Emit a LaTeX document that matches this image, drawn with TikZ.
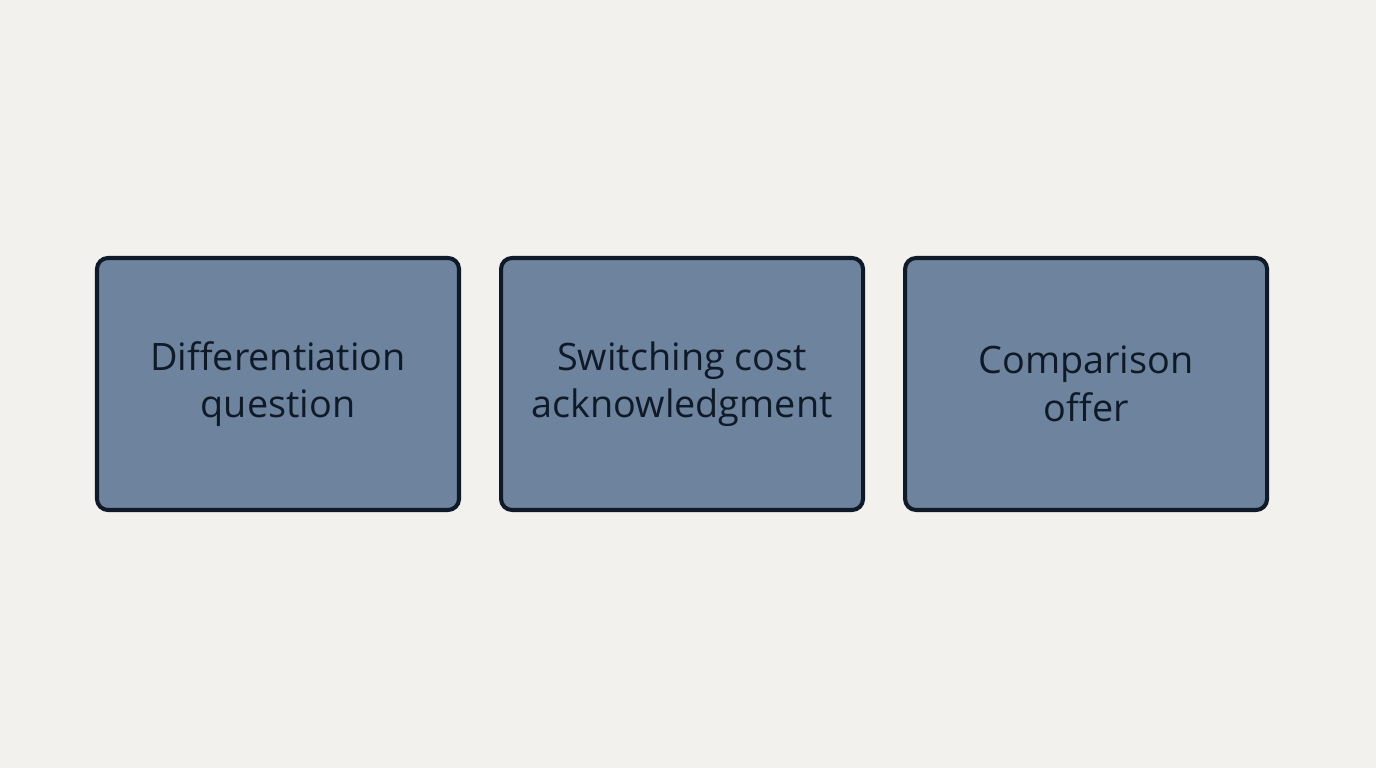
\documentclass[tikz,border=0pt]{standalone}
\usepackage{fontspec}
\setmainfont{Open Sans}
\usetikzlibrary{positioning}
\definecolor{bgcol}{HTML}{F2F1ED}
\definecolor{boxfill}{HTML}{6E849E}
\definecolor{boxline}{HTML}{0F1A28}
\tikzset{
  stage/.style={draw=boxline, fill=boxfill, line width=2.3pt, rounded corners=0.22cm,
    minimum width=7.24cm, minimum height=5.04cm, align=center,
    text=boxline, font=\fontsize{21.5}{27}\selectfont},
}
\begin{document}
\begin{tikzpicture}
  % background
  \fill[bgcol] (0,0) rectangle (27.52,15.36);
  \useasboundingbox (0,0) rectangle (27.52,15.36);
  % stages
  \node[stage] (diff) at (5.56,7.68) {Differentiation\\question};
  \node[stage, right=0.76cm of diff] (switch) {Switching cost\\acknowledgment};
  \node[stage, right=0.76cm of switch] (comp) {Comparison\\offer};
\end{tikzpicture}
\end{document}
